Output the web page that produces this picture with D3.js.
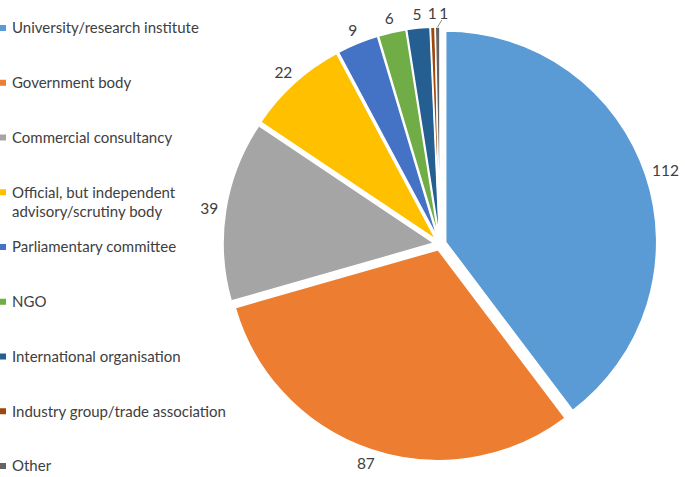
<!DOCTYPE html>
<html><head><meta charset="utf-8">
<script src="https://cdn.jsdelivr.net/npm/d3@7"></script>
<style>body{margin:0;background:#fff}svg{display:block}</style>
</head><body>
<svg id="chart" width="685" height="477"></svg>
<script>
const categories = ["University/research institute","Government body","Commercial consultancy","Official, but independent advisory/scrutiny body","Parliamentary committee","NGO","International organisation","Industry group/trade association","Other"];
const values = [112, 87, 39, 22, 9, 6, 5, 1, 1];
const colors = ["#5B9BD5","#ED7D31","#A5A5A5","#FFC000","#4472C4","#70AD47","#255E91","#9E480E","#636363"];
const legendLines = [["University/research institute"],["Government body"],["Commercial consultancy"],["Official, but independent","advisory/scrutiny body"],["Parliamentary committee"],["NGO"],["International organisation"],["Industry group/trade association"],["Other"]];

const svg = d3.select("#chart");
const cx = 440, cy = 244, R = 211, explode = 6;
const font = "Lato, 'Open Sans', sans-serif";

const pie = d3.pie().sort(null).value(d => d)(values);
const arc = d3.arc().innerRadius(0).outerRadius(R);

const g = svg.append("g").attr("transform", `translate(${cx},${cy})`);
pie.forEach((p, i) => {
  const mid = (p.startAngle + p.endAngle) / 2;
  const dx = Math.sin(mid) * explode, dy = -Math.cos(mid) * explode;
  g.append("path").attr("d", arc(p)).attr("fill", colors[i])
    .attr("stroke", "#fff").attr("stroke-width", 1.5)
    .attr("transform", `translate(${dx},${dy})`);
});

// data labels
const lab = svg.append("g").attr("font-family", font).attr("font-size", 15.5).attr("fill", "#404040");
let prevRight = -Infinity, prevY = null;
pie.forEach((p, i) => {
  const mid = (p.startAngle + p.endAngle) / 2;
  const sx = Math.sin(mid), sy = -Math.cos(mid);
  const text = String(values[i]);
  const w = text.length * 8.5, h = 12;
  const rr = R + explode + 8;
  let x = cx + sx * rr + sx * w / 2;
  let y = cy + sy * rr + sy * h / 2;
  let shifted = false;
  if (prevY !== null && Math.abs(y - prevY) < h && x - w / 2 < prevRight + 3) {
    x = prevRight + 3 + w / 2; shifted = true;
  }
  lab.append("text").attr("x", x).attr("y", y).attr("dy", "0.36em").attr("text-anchor", "middle").text(text);
  if (shifted) {
    const ex = cx + sx * (R + explode), ey = cy + sy * (R + explode);
    lab.append("line").attr("x1", x - 2).attr("y1", y + 7).attr("x2", ex).attr("y2", ey)
      .attr("stroke", "#8c8c8c").attr("stroke-width", 1);
  }
  prevRight = x + w / 2; prevY = y;
});

// legend
const leg = svg.append("g").attr("font-family", font).attr("font-size", 15).attr("fill", "#404040");
const ly = d3.scaleLinear().domain([0, categories.length - 1]).range([28, 466]);
categories.forEach((c, i) => {
  const y = ly(i);
  leg.append("rect").attr("x", 0).attr("y", y - 3).attr("width", 6).attr("height", 6).attr("fill", colors[i]);
  legendLines[i].forEach((t, j) => {
    leg.append("text").attr("x", 12).attr("y", y + j * 19).attr("dy", "0.35em").text(t);
  });
});
</script>
</body></html>
